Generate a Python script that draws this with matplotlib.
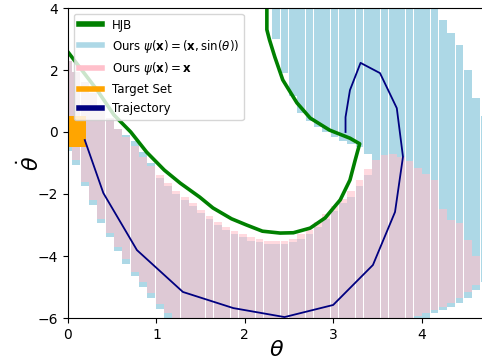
import matplotlib
matplotlib.use('Agg')
import matplotlib.pyplot as plt
from matplotlib.lines import Line2D
import numpy as np

# theta grid columns (the sets are evaluated on a 0..3pi/2 grid)
col_theta = np.arange(51) * (1.5 * np.pi / 50)

# Ours psi(x) = x  (pink), one interval per column, nan = empty
pink_lo = [-0.5, -0.9, -1.6, -2.2, -2.8, -3.25, -3.7, -4.1, -4.5, -4.85,
           -5.2, -5.55, -5.85, -6.0, -6.0, -6.0, -6.0, -6.0, -6.0, -6.0,
           -6.0, -6.0, -6.0, -6.0, -6.0, -6.0, -6.0, -6.0, -6.0, -6.0,
           -6.0, -6.0, -6.0, -6.0, -6.0, -6.0, -6.0, -6.0, -6.0, -6.0,
           -6.0, -6.0, -5.95, -5.85, -5.75, -5.65, -5.5, -5.35, -5.15, -4.95,
           np.nan]
pink_hi = [2.3, 1.95, 1.6, 1.25, 0.85, 0.45, 0.1, -0.15, -0.45, -0.8,
           -1.1, -1.4, -1.65, -1.9, -2.1, -2.3, -2.5, -2.7, -2.9, -3.05,
           -3.2, -3.3, -3.4, -3.45, -3.5, -3.5, -3.5, -3.45, -3.3, -3.15,
           -2.9, -2.65, -2.4, -2.15, -1.9, -1.55, -1.2, -0.9, -0.75, -0.72,
           -0.8, -0.95, -1.15, -1.35, -1.55, -2.5, -2.85, -2.95, -3.5, -4.0,
           np.nan]

# Ours psi(x) = (x, sin(theta))  (light blue), lower and upper interval per column
blue_lo1 = [-0.6, -1.05, -1.75, -2.35, -2.95, -3.4, -3.85, -4.25, -4.65, -5.0,
            -5.35, -5.7, -6.0, -6.0, -6.0, -6.0, -6.0, -6.0, -6.0, -6.0,
            -6.0, -6.0, -6.0, -6.0, -6.0, -6.0, -6.0, -6.0, -6.0, -6.0,
            -6.0, -6.0, -6.0, -6.0, -6.0, -6.0, -6.0, -6.0, -6.0, -6.0,
            -6.0, -6.0, -6.0, -6.0, -5.85, -5.75, -5.65, -5.5, -5.35, -5.1,
            -4.85]
blue_hi1 = [2.3, 1.95, 1.6, 1.25, 0.85, 0.45, 0.1, -0.1, -0.3, -0.65,
            -1.0, -1.5, -1.75, -2.0, -2.2, -2.4, -2.6, -2.8, -3.0, -3.15,
            -3.3, -3.4, -3.5, -3.55, -3.6, -3.6, -3.6, -3.55, -3.45, -3.3,
            -3.05, -2.8, -2.55, -2.3, -2.1, -1.75, -1.4, 4.0, 4.0, 4.0,
            4.0, 4.0, 4.0, 4.0, 4.0, 3.6, 3.2, 2.8, 2.0, 1.1,
            0.5]
blue_lo2 = [np.nan] * 25 + [3.0, 1.9, 1.15, 0.6, 0.35, 0.15, 0.0, -0.15, -0.3, -0.4,
                            -0.5, -0.7] + [np.nan] * 14
blue_hi2 = [np.nan] * 25 + [4.0] * 12 + [np.nan] * 14

# HJB boundary
hjb_theta = [0.0, 0.33, 0.52, 0.71, 0.89, 1.09, 1.27, 1.49, 1.64, 1.85,
             2.02, 2.2, 2.4, 2.55, 2.74, 2.91, 3.08, 3.19, 3.25, 3.30,
             3.19, 2.96, 2.74, 2.59, 2.43, 2.34, 2.28, 2.25, 2.25]
hjb_y = [2.58, 1.35, 0.55, 0.0, -0.65, -1.23, -1.65, -2.1, -2.45, -2.8,
         -3.0, -3.2, -3.26, -3.25, -3.1, -2.77, -2.19, -1.55, -0.9, -0.38,
         -0.2, 0.06, 0.45, 0.94, 1.68, 2.42, 2.97, 3.3, 4.0]

# target set box
target_theta = [0.0, 0.2]
target_lo, target_hi = -0.5, 0.5

# trajectory
traj_theta = [0.19, 0.40, 0.78, 1.30, 1.87, 2.45, 3.0, 3.45, 3.70, 3.79,
              3.72, 3.53, 3.31, 3.19, 3.14, 3.14]
traj_y = [-0.26, -1.97, -3.81, -5.16, -5.68, -5.97, -5.58, -4.29, -2.58, -0.8,
          0.77, 1.9, 2.23, 1.35, 0.48, 0.0]

fig = plt.figure(figsize=(4.82, 3.6), dpi=100)
ax = fig.add_axes([68 / 482, 42 / 360, 416.5 / 482, 310 / 360])

w = 0.088
pl, ph = np.array(pink_lo), np.array(pink_hi)
b1l, b1h = np.array(blue_lo1), np.array(blue_hi1)
b2l, b2h = np.array(blue_lo2), np.array(blue_hi2)

ax.bar(col_theta, b1h - b1l, bottom=b1l, width=w, color='lightblue', linewidth=0)
ax.bar(col_theta, b2h - b2l, bottom=b2l, width=w, color='lightblue', linewidth=0)
ax.bar(col_theta, ph - pl, bottom=pl, width=w, color='pink', alpha=0.6, linewidth=0)

ax.plot(hjb_theta, hjb_y, color='green', lw=2.6)
ax.fill_between(target_theta, target_lo, target_hi, color='orange', linewidth=0)
ax.plot(traj_theta, traj_y, color='navy', lw=1.3)

ax.set_xlim(0, 1.5 * np.pi)
ax.set_ylim(-6, 4)
ax.set_xticks([0, 1, 2, 3, 4])
ax.set_yticks([-6, -4, -2, 0, 2, 4])
ax.set_xlabel(r'$\theta$', fontsize=16, labelpad=-1)
ax.set_ylabel(r'$\dot{\theta}$', fontsize=16, labelpad=-4)

handles = [
    Line2D([], [], color='green', lw=4),
    Line2D([], [], color='lightblue', lw=4),
    Line2D([], [], color='pink', lw=4),
    Line2D([], [], color='orange', lw=4),
    Line2D([], [], color='navy', lw=4),
]
labels = ['HJB',
          r'Ours $\psi(\mathbf{x}) = (\mathbf{x}, \sin(\theta))$',
          r'Ours $\psi(\mathbf{x}) = \mathbf{x}$',
          'Target Set',
          'Trajectory']
ax.legend(handles, labels, loc='upper left', fontsize=8.5)

fig.savefig('out.png', dpi=100)
